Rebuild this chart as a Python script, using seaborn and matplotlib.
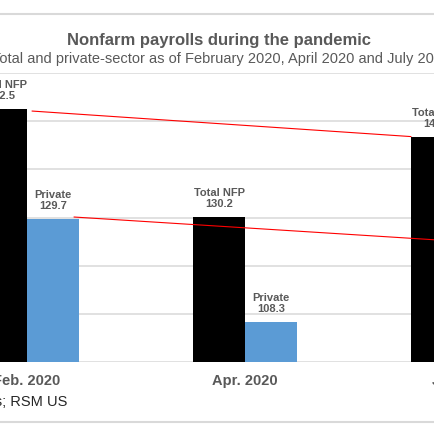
import matplotlib
matplotlib.use("Agg")
import pandas as pd
import seaborn as sns
from matplotlib import pyplot as plt
from matplotlib.lines import Line2D

# Dades (milions de llocs de treball)
mesos = ["Feb. 2020", "Apr. 2020", "Jul. 2021"]
series = ["Total NFP", "Private"]
total_nfp = [152.5, 130.2, 146.8]
privat = [129.7, 108.3, 125.0]
y_ticks = [100, 110, 120, 130, 140, 150, 160]
# línies vermelles: Feb -> Jul
trend_total = [152.1, 146.8]
trend_privat = [130.1, 125.0]

titol = "Nonfarm payrolls during the pandemic"
subtitol = "Total and private-sector as of February 2020, April 2020 and July 2021"
font = "Source: Bureau of Labor Statistics; RSM US"

df = pd.DataFrame({
    "mes": mesos * 2,
    "serie": [series[0]] * 3 + [series[1]] * 3,
    "valor": total_nfp + privat,
})

sns.set_theme(style="white")
plt.rcParams["font.family"] = ["Liberation Sans", "DejaVu Sans"]

gris = "#595959"
W = 435.0

fig = plt.figure(figsize=(4.35, 4.35), dpi=100)
fig.patch.set_facecolor("white")
# l'àrea del gràfic surt per l'esquerra i la dreta
ax = fig.add_axes([-82 / W, 72 / W, 654 / W, 289 / W])

amplada = 0.477
sns.barplot(data=df, x="mes", y="valor", hue="serie", hue_order=series,
            palette=["#000000", "#5B9BD5"], width=amplada, gap=0,
            saturation=1, linewidth=0, legend=False, ax=ax, zorder=2)

ax.set_xlim(-0.5, 2.5)
ax.set_ylim(100, 160)
ax.set_yticks(y_ticks)
ax.set_yticklabels([])
ax.grid(axis="y", color="#D9D9D9", lw=1.1)
ax.grid(axis="x", visible=False)
ax.set_axisbelow(True)
for s in ax.spines.values():
    s.set_visible(False)
ax.tick_params(length=0)
ax.tick_params(axis="x", pad=8, labelsize=10.5, labelcolor=gris)
for t in ax.get_xticklabels():
    t.set_fontweight("bold")
ax.set_xlabel("")
ax.set_ylabel("")

# etiquetes de les barres
for cont, nom, vals in zip(ax.containers, series, [total_nfp, privat]):
    ax.bar_label(cont, labels=[f"{nom}\n{v:.1f}" for v in vals], padding=6.5,
                 fontsize=8, fontweight="bold", color=gris, linespacing=1.1)

# línies vermelles
mig = amplada / 2
ax.plot([0 + 0.023, 2 - mig], trend_total, color="red", lw=0.8, zorder=5)
ax.plot([mig - 0.023, 2], trend_privat, color="red", lw=0.8, zorder=5)

fig.text(219 / W, 1 - 40 / W, titol, ha="center", va="center",
         fontsize=12, fontweight="bold", color=gris)
fig.text(221 / W, 1 - 59.5 / W, subtitol, ha="center", va="center",
         fontsize=10.5, color=gris)
fig.text(67 / W, 1 - 402 / W, font, ha="right", va="center",
         fontsize=10.5, color="#262626")

# vores de l'àrea del gràfic
for yp in [15, 423]:
    fig.add_artist(Line2D([0, 1], [1 - yp / W] * 2, color="#D9D9D9", lw=1.5,
                          transform=fig.transFigure))

fig.savefig("out.png", dpi=100)
